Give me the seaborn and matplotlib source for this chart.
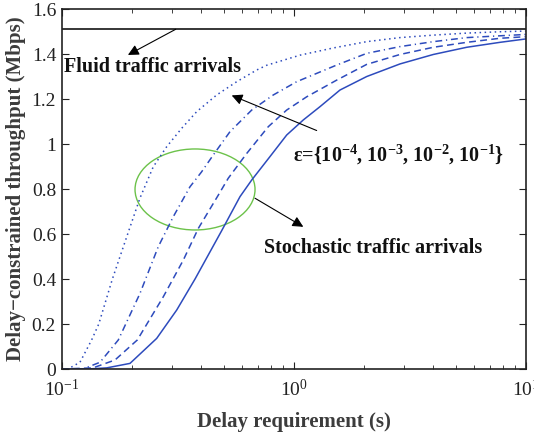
import numpy as np
import matplotlib
matplotlib.use("Agg")
import matplotlib.pyplot as plt
import matplotlib.ticker as mticker
from matplotlib.patches import Ellipse
import seaborn as sns

# ---- data ----
fluid_x = [0.1, 10]
fluid_y = [1.51, 1.51]

# eps = 1e-1 (dotted)
dot_x = [0.1, 0.1065, 0.1199, 0.1346, 0.1445, 0.1654, 0.1925, 0.2175, 0.2482, 0.2835,
         0.3291, 0.382, 0.4656, 0.568, 0.6927, 0.7647, 1.065, 1.482, 2.064, 2.872,
         3.997, 5.569, 7.747, 10]
dot_y = [0, 0.0, 0.03, 0.129, 0.2, 0.4, 0.6, 0.76, 0.899, 0.988,
         1.07, 1.144, 1.218, 1.277, 1.329, 1.35, 1.395, 1.427, 1.455, 1.473,
         1.484, 1.493, 1.499, 1.502]

# eps = 1e-2 (dash-dot)
dashdot_x = [0.1, 0.1235, 0.1463, 0.1754, 0.2175, 0.2609, 0.3027, 0.3573, 0.4, 0.45,
             0.5314, 0.6592, 0.8166, 1.03, 1.532, 2.064, 2.872, 3.997, 5.569, 7.747, 10]
dashdot_y = [0, 0.0, 0.03, 0.129, 0.336, 0.544, 0.677, 0.81, 0.875, 0.951,
             1.055, 1.151, 1.218, 1.277, 1.351, 1.403, 1.433, 1.455, 1.473, 1.481, 1.487]

# eps = 1e-3 (dashed)
dash_x = [0.1, 0.1364, 0.1697, 0.2118, 0.2741, 0.3343, 0.3881, 0.4732, 0.5224, 0.6272,
          0.777, 0.9328, 1.138, 1.532, 2.064, 2.872, 3.997, 5.569, 7.747, 10]
dash_y = [0, 0.005, 0.04, 0.129, 0.321, 0.484, 0.625, 0.773, 0.848, 0.958,
          1.077, 1.151, 1.21, 1.284, 1.354, 1.398, 1.43, 1.452, 1.47, 1.477]

# eps = 1e-4 (solid)
solid_x = [0.1, 0.13, 0.1563, 0.197, 0.2567, 0.3131, 0.3756, 0.4894, 0.5868, 0.6592,
           0.7901, 0.9328, 1.1, 1.298, 1.583, 2.064, 2.872, 3.997, 5.569, 7.747, 10]
solid_y = [0, 0.0, 0.005, 0.025, 0.136, 0.262, 0.40, 0.615, 0.766, 0.84,
           0.944, 1.04, 1.107, 1.166, 1.24, 1.30, 1.356, 1.398, 1.43, 1.452, 1.467]

y_ticks = [0, 0.2, 0.4, 0.6, 0.8, 1.0, 1.2, 1.4, 1.6]

sns.set_style("ticks")
plt.rcParams['font.family'] = ['Liberation Serif', 'DejaVu Serif']
plt.rcParams['mathtext.fontset'] = 'custom'
plt.rcParams['mathtext.rm'] = 'Liberation Serif'
plt.rcParams['mathtext.bf'] = 'Liberation Serif:bold'
plt.rcParams['mathtext.it'] = 'Liberation Serif:italic'

blue = '#2d4bbd'
green = '#6cc24a'

fig = plt.figure(figsize=(5.34, 4.32), dpi=100)
ax = fig.add_axes([0.1155, 0.1458, 0.869, 0.8333])

sns.lineplot(x=fluid_x, y=fluid_y, ax=ax, color='black', lw=1.1, estimator=None)
sns.lineplot(x=dot_x, y=dot_y, ax=ax, color=blue, lw=1.1, linestyle=(0, (1, 2.3)), estimator=None)
sns.lineplot(x=dashdot_x, y=dashdot_y, ax=ax, color=blue, lw=1.1,
             linestyle=(0, (4.5, 2.5, 0.8, 2.5)), estimator=None)
sns.lineplot(x=dash_x, y=dash_y, ax=ax, color=blue, lw=1.1, linestyle=(0, (4.5, 2.8)), estimator=None)
sns.lineplot(x=solid_x, y=solid_y, ax=ax, color=blue, lw=1.1, linestyle='-', estimator=None)

ax.set_xscale('log')
ax.set_xlim(0.1, 10)
ax.set_ylim(0, 1.6)
ax.set_yticks(y_ticks)
ax.yaxis.set_major_formatter(mticker.FuncFormatter(lambda v, p: '%g' % v))
ax.xaxis.set_major_locator(mticker.LogLocator(base=10, numticks=5))
ax.xaxis.set_minor_locator(mticker.LogLocator(base=10, subs=np.arange(2, 10), numticks=20))
ax.xaxis.set_minor_formatter(mticker.NullFormatter())

for s in ax.spines.values():
    s.set_visible(True)
    s.set_linewidth(1.2)
    s.set_color('#222222')
ax.tick_params(which='both', direction='in', top=True, right=True, colors='#222222',
               labelcolor='#222222', labelsize=14)
ax.tick_params(which='major', length=5, width=0.8)
ax.tick_params(which='minor', length=3, width=0.6)
ax.tick_params(axis='x', pad=7)
ax.tick_params(axis='y', pad=4)

lab_color = '#3c3c3c'
ax.set_xlabel('Delay requirement (s)', fontsize=15, fontweight='bold', color=lab_color, labelpad=9)
ax.set_ylabel('Delay\u2212constrained throughput (Mbps)', fontsize=15, fontweight='bold',
              color=lab_color, labelpad=4)

arrow = dict(arrowstyle='-|>', color='black', lw=0.8, mutation_scale=16, shrinkA=0, shrinkB=0)
txt = dict(fontsize=14.5, fontweight='bold', ha='left', va='center', color='#111111')

ax.annotate('', xy=(0.193, 1.396), xytext=(0.31, 1.51), arrowprops=arrow)
ax.text(0.1023, 1.344, 'Fluid traffic arrivals', **txt)

ax.annotate('', xy=(0.5405, 1.216), xytext=(1.256, 1.06), arrowprops=arrow)
ax.text(0.99, 0.951,
        r'ε={10$^{\mathbf{-4}}$, 10$^{\mathbf{-3}}$, 10$^{\mathbf{-2}}$, 10$^{\mathbf{-1}}$}', **txt)

ax.annotate('', xy=(1.1, 0.632), xytext=(0.6813, 0.759), arrowprops=arrow)
ax.text(0.7447, 0.536, 'Stochastic traffic arrivals', **txt)

cx, cy = ax.transAxes.inverted().transform(ax.transData.transform((0.3756, 0.798)))
ax.add_patch(Ellipse((cx, cy), 0.2586, 0.225, transform=ax.transAxes, fill=False,
                     edgecolor=green, lw=1.0))

fig.savefig('out.png', dpi=100)
